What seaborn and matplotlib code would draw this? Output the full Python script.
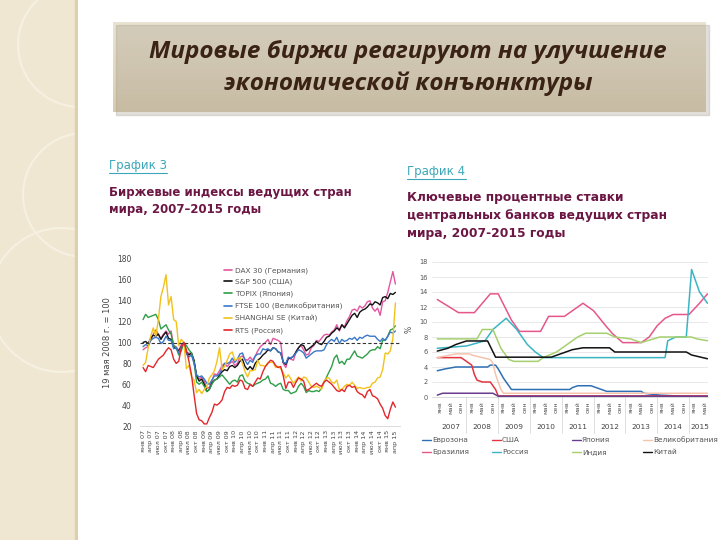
import numpy as np
import pandas as pd
import matplotlib
matplotlib.use('Agg')
import matplotlib.pyplot as plt
import matplotlib.patches as mpatches
from matplotlib.lines import Line2D
import seaborn as sns

# ---- данные: график 3 (месячные значения, янв 2007 - апр 2015, 19 мая 2008 = 100)
index_names = ['DAX 30 (Германия)', 'S&P 500 (США)', 'TOPIX (Япония)',
               'FTSE 100 (Великобритания)', 'SHANGHAI SE (Китай)', 'RTS (Россия)']
index_colors = ['#e2579f', '#111111', '#2e9e48', '#3a78c9', '#f2c21b', '#e3262b']

dax = [93, 95, 96, 102, 108, 112, 108, 104, 108, 111, 108, 111,
       97, 96, 92, 98, 100, 90, 90, 89, 82, 68, 65, 67,
       63, 56, 57, 63, 70, 69, 73, 78, 80, 77, 80, 82,
       78, 80, 86, 87, 84, 83, 86, 83, 87, 92, 96, 98,
       100, 103, 98, 104, 103, 102, 100, 80, 76, 85, 84, 83,
       91, 95, 97, 93, 88, 89, 95, 97, 102, 101, 104, 107,
       108, 107, 110, 112, 117, 111, 117, 115, 121, 125, 131, 132,
       130, 135, 133, 135, 139, 140, 133, 130, 133, 126, 139, 140,
       148, 158, 168, 156]
sp500 = [100, 101, 99, 104, 107, 106, 108, 103, 107, 110, 104, 103,
         96, 94, 92, 96, 100, 91, 88, 90, 83, 68, 63, 65,
         60, 53, 55, 61, 64, 65, 69, 72, 74, 73, 77, 78,
         76, 78, 82, 84, 77, 74, 77, 74, 80, 83, 85, 88,
         90, 93, 92, 95, 94, 91, 90, 81, 79, 85, 85, 87,
         91, 95, 98, 97, 92, 94, 96, 98, 101, 99, 98, 101,
         105, 106, 109, 111, 114, 112, 117, 114, 118, 122, 126, 128,
         124, 129, 131, 132, 134, 137, 136, 139, 138, 136, 143, 144,
         142, 147, 146, 148]
topix = [122, 127, 124, 125, 126, 127, 122, 113, 115, 117, 112, 108,
         97, 95, 88, 92, 100, 97, 93, 90, 81, 62, 60, 62,
         58, 53, 55, 60, 64, 65, 67, 69, 66, 63, 60, 63,
         64, 62, 68, 69, 63, 61, 60, 58, 60, 61, 62, 64,
         65, 68, 61, 60, 58, 60, 61, 55, 54, 54, 51, 52,
         53, 58, 61, 58, 52, 54, 53, 53, 54, 53, 56, 62,
         67, 72, 77, 85, 88, 80, 82, 79, 84, 84, 88, 92,
         87, 86, 85, 87, 89, 92, 93, 93, 96, 94, 102, 102,
         106, 112, 113, 116]
ftse = [96, 98, 97, 102, 104, 105, 104, 99, 101, 106, 102, 102,
        94, 95, 90, 96, 100, 89, 86, 88, 80, 69, 67, 68,
        65, 61, 60, 64, 68, 68, 70, 75, 80, 80, 81, 85,
        81, 84, 89, 90, 83, 79, 83, 81, 87, 89, 89, 94,
        93, 94, 92, 95, 94, 91, 90, 81, 80, 86, 85, 87,
        90, 93, 92, 90, 85, 87, 89, 91, 92, 92, 92, 93,
        98, 101, 103, 101, 105, 99, 103, 101, 102, 104, 103, 105,
        102, 105, 104, 106, 107, 106, 106, 106, 103, 101, 104, 102,
        106, 110, 109, 111]
shanghai = [78, 81, 95, 106, 114, 106, 122, 144, 153, 165, 136, 144,
            122, 120, 97, 103, 100, 75, 78, 67, 64, 52, 55, 51,
            55, 58, 66, 69, 73, 82, 95, 74, 77, 83, 89, 91,
            83, 84, 86, 80, 72, 67, 73, 73, 74, 83, 78, 78,
            77, 81, 81, 81, 76, 77, 75, 71, 66, 69, 65, 61,
            64, 67, 63, 67, 66, 62, 58, 57, 58, 57, 55, 63,
            66, 66, 62, 61, 64, 55, 55, 58, 60, 59, 62, 59,
            56, 57, 56, 56, 57, 57, 61, 62, 66, 67, 74, 90,
            89, 92, 104, 138]
rts = [76, 72, 78, 77, 76, 80, 84, 86, 88, 92, 95, 93,
       84, 80, 82, 95, 100, 93, 82, 69, 50, 32, 26, 25,
       22, 22, 28, 33, 41, 40, 42, 45, 53, 57, 56, 59,
       58, 59, 64, 63, 56, 55, 60, 58, 62, 66, 65, 72,
       77, 80, 83, 82, 78, 76, 77, 68, 56, 62, 62, 57,
       62, 66, 65, 63, 54, 55, 57, 59, 61, 59, 58, 62,
       64, 62, 60, 57, 54, 53, 55, 53, 58, 59, 57, 58,
       53, 51, 50, 47, 53, 55, 49, 48, 46, 41, 37, 30,
       27, 36, 43, 38]
index_series = [dax, sp500, topix, ftse, shanghai, rts]

month_short = ['янв', 'апр', 'июл', 'окт']
left_ticks = list(range(0, 100, 3))
left_labels = [f'{month_short[(t % 12) // 3]} {7 + t // 12:02d}' for t in left_ticks]

# ---- данные: график 4 (ключевые ставки, %, месяцы от янв 2007)
rate_names = ['Еврозона', 'США', 'Япония', 'Великобритания',
              'Бразилия', 'Россия', 'Индия', 'Китай']
rate_colors = ['#2f6fb5', '#e3343f', '#6a3d8f', '#f6c3ad',
               '#e5578a', '#3bb4c4', '#a6d06f', '#111111']

euro_m = [-1, 2, 6, 18, 19, 21, 22, 24, 25, 26, 27, 49, 50, 52, 57, 59, 61, 63, 76, 77, 83, 89, 93, 101]
euro_v = [3.5, 3.75, 4.0, 4.0, 4.25, 4.25, 3.75, 2.5, 2.0, 1.5, 1.0, 1.0, 1.25, 1.5, 1.5, 1.25, 1.0, 0.75, 0.75, 0.5, 0.25, 0.15, 0.05, 0.05]
usa_m = [-1, 8, 10, 12, 13, 14, 16, 19, 20, 21, 22, 101]
usa_v = [5.25, 5.25, 4.75, 4.25, 3.0, 2.25, 2.0, 2.0, 1.5, 1.0, 0.15, 0.15]
jap_m = [-1, 1, 20, 21, 22, 101]
jap_v = [0.25, 0.5, 0.5, 0.3, 0.1, 0.1]
uk_m = [-1, 6, 11, 13, 19, 20, 21, 22, 23, 24, 101]
uk_v = [5.25, 5.75, 5.75, 5.5, 5.0, 4.5, 3.0, 2.0, 1.0, 0.5, 0.5]
bra_m = [-1, 7, 13, 19, 22, 27, 30, 38, 41, 47, 54, 58, 62, 65, 69, 76, 79, 82, 85, 88, 94, 96, 98, 101]
bra_v = [13.0, 11.25, 11.25, 13.75, 13.75, 10.25, 8.75, 8.75, 10.75, 10.75, 12.5, 11.5, 9.75, 8.5, 7.25, 7.25, 8.0, 9.5, 10.5, 11.0, 11.0, 11.75, 12.5, 13.75]
rus_m = [-1, 10, 17, 20, 25, 29, 33, 36, 39, 85, 86, 89, 93, 95, 97, 98, 101]
rus_v = [6.5, 6.8, 7.5, 9.0, 10.5, 9.0, 7.0, 6.0, 5.25, 5.25, 7.5, 8.0, 8.0, 17.0, 15.0, 14.0, 12.5]
ind_m = [-1, 14, 16, 20, 23, 26, 28, 37, 39, 44, 48, 52, 55, 63, 66, 72, 76, 83, 95, 97, 101]
ind_v = [7.75, 7.75, 9.0, 9.0, 6.5, 5.0, 4.75, 4.75, 5.25, 6.0, 7.0, 8.0, 8.5, 8.5, 8.0, 7.75, 7.25, 8.0, 8.0, 7.75, 7.5]
chi_m = [-1, 3, 6, 10, 18, 21, 42, 44, 48, 50, 54, 64, 66, 93, 95, 98, 101]
chi_v = [6.12, 6.5, 7.0, 7.47, 7.47, 5.31, 5.31, 5.56, 6.06, 6.31, 6.56, 6.56, 6.0, 6.0, 5.6, 5.35, 5.1]
rate_series = [(euro_m, euro_v), (usa_m, usa_v), (jap_m, jap_v), (uk_m, uk_v),
               (bra_m, bra_v), (rus_m, rus_v), (ind_m, ind_v), (chi_m, chi_v)]

right_ticks = list(range(0, 101, 4))
right_labels = [['янв', 'май', 'сен'][(t % 12) // 4] for t in right_ticks]
years = ['2007', '2008', '2009', '2010', '2011', '2012', '2013', '2014', '2015']

# ---- таблицы для seaborn
df3 = pd.concat([pd.DataFrame({'m': np.arange(len(s)), 'v': s, 'series': n})
                 for n, s in zip(index_names, index_series)])
df4 = pd.concat([pd.DataFrame({'m': mm, 'v': vv, 'series': n})
                 for n, (mm, vv) in zip(rate_names, rate_series)])

sns.set_style('white')
plt.rcParams['font.family'] = ['DejaVu Sans']
W, H = 720, 540
fig = plt.figure(figsize=(7.2, 5.4), dpi=100)
fig.patch.set_facecolor('white')

def fx(x):
    return x / W

def fy(y):
    return 1 - y / H

# левая декоративная полоса
deco = fig.add_axes([0, 0, fx(78), 1])
deco.set_xlim(0, 78)
deco.set_ylim(540, 0)
deco.axis('off')
deco.add_patch(mpatches.Rectangle((0, 0), 78, 540, color='#efe7d1'))
for cx, cy, r in [(80, 45, 62), (85, 195, 62), (62, 300, 72)]:
    deco.add_patch(mpatches.Circle((cx, cy), r, fill=False, ec='#f6f0e2', lw=1.6))
deco.add_patch(mpatches.Rectangle((75, 0), 3, 540, color='#ddd0ad'))

# плашка заголовка (светлее сверху, темнее снизу)
fig.patches.append(mpatches.Rectangle((fx(116), fy(115)), fx(593), 90 / H, transform=fig.transFigure,
                                      color='#a09888', alpha=0.3, zorder=0))
tbox = fig.add_axes([fx(113), fy(112), fx(593), 90 / H])
grad = np.linspace(0, 1, 100).reshape(-1, 1)
tbox.imshow(grad, aspect='auto', origin='lower', cmap=matplotlib.colors.LinearSegmentedColormap.from_list(
    'beige', ['#d9cbae', '#e3d9c2', '#ebe3d1']), extent=[0, 1, 0, 1])
tbox.axis('off')
for txt, y in [('Мировые биржи реагируют на улучшение', 52), ('экономической конъюнктуры', 84)]:
    fig.text(fx(408), fy(y), txt, ha='center', va='center', fontsize=17.5,
             style='italic', weight='bold', color='#3a2314', family=['Open Sans', 'DejaVu Sans'])

# подписи графиков
teal = '#3aa6b8'
maroon = '#6b1643'
fig.text(fx(109), fy(165), 'График 3', fontsize=8.5, color=teal, va='center')
fig.add_artist(Line2D([fx(109), fx(167)], [fy(173), fy(173)], color=teal, lw=0.8))
fig.text(fx(109), fy(192), 'Биржевые индексы ведущих стран', fontsize=8.5, weight='bold', color=maroon, va='center')
fig.text(fx(109), fy(210), 'мира, 2007–2015 годы', fontsize=8.5, weight='bold', color=maroon, va='center')
fig.text(fx(407), fy(171), 'График 4', fontsize=8.5, color=teal, va='center')
fig.add_artist(Line2D([fx(407), fx(466)], [fy(179), fy(179)], color=teal, lw=0.8))
for txt, y in [('Ключевые процентные ставки', 197), ('центральных банков ведущих стран', 215),
               ('мира, 2007-2015 годы', 233)]:
    fig.text(fx(407), fy(y), txt, fontsize=8.8, weight='bold', color=maroon, va='center')

# ---- график 3
ax1 = fig.add_axes([fx(140), fy(426), fx(260), 167 / H])
sns.lineplot(data=df3, x='m', y='v', hue='series', palette=index_colors,
             hue_order=index_names, linewidth=1.0, ax=ax1, legend=False)
ax1.axhline(100, ls='--', color='#333333', lw=0.8, dashes=(3, 2))
ax1.set_xlim(-1.2, 100.8)
ax1.set_ylim(20, 180)
ax1.set_yticks(range(20, 181, 20))
ax1.set_xticks(left_ticks)
ax1.set_xticklabels(left_labels, rotation=90, fontsize=4.6, color='#444444')
ax1.tick_params(axis='y', labelsize=5.5, colors='#444444', length=0, pad=6)
ax1.tick_params(axis='x', length=2, width=0.4, color='#bbbbbb', pad=1)
ax1.set_xlabel('')
ax1.set_ylabel('19 мая 2008 г. = 100', fontsize=6, color='#444444', labelpad=4)
for s in ['top', 'right', 'left']:
    ax1.spines[s].set_visible(False)
ax1.spines['bottom'].set_color('#cccccc')
ax1.spines['bottom'].set_linewidth(0.5)
h3 = [Line2D([], [], color=c, lw=1.2) for c in index_colors]
ax1.legend(h3, index_names, loc='upper left', bbox_to_anchor=(0.31, 0.97), frameon=False,
           fontsize=5.3, handlelength=1.2, handletextpad=0.4, labelspacing=0.7,
           labelcolor='#555555', borderaxespad=0)

# ---- график 4
ax2 = fig.add_axes([fx(432), fy(397), fx(276), 135 / H])
sns.lineplot(data=df4, x='m', y='v', hue='series', palette=rate_colors,
             hue_order=rate_names, linewidth=1.1, ax=ax2, legend=False)
ax2.set_xlim(-3, 101.2)
ax2.set_ylim(0, 18)
ax2.set_yticks(range(0, 19, 2))
ax2.yaxis.grid(True, color='#e4e4e4', lw=0.6)
ax2.set_axisbelow(True)
ax2.set_xticks(right_ticks)
ax2.set_xticklabels(right_labels, rotation=90, fontsize=4.5, color='#555555')
ax2.tick_params(axis='both', length=0, pad=3)
ax2.tick_params(axis='y', labelsize=4.8, colors='#555555')
ax2.set_xlabel('')
ax2.set_ylabel('%', fontsize=5.5, color='#555555', rotation=90, labelpad=4)
for s in ['top', 'right', 'left']:
    ax2.spines[s].set_visible(False)
ax2.spines['bottom'].set_color('#cccccc')
ax2.spines['bottom'].set_linewidth(0.5)
trans = matplotlib.transforms.blended_transform_factory(ax2.transData, ax2.transAxes)
for k in range(1, 9):
    ax2.plot([12 * k - 2, 12 * k - 2], [0, -0.27], transform=trans, color='#d0d0d0', lw=0.5, clip_on=False)
for k, yr in enumerate(years):
    xm = 12 * k + 4 if k < 8 else 98
    ax2.text(xm, -0.225, yr, transform=trans, ha='center', va='center', fontsize=5.3, color='#444444')

# легенда графика 4 (две строки по четыре)
col_x = [422, 492, 572, 643]
for i, (n, c) in enumerate(zip(rate_names, rate_colors)):
    row, col = divmod(i, 4)
    x0, y0 = col_x[col], 440 + 12 * row
    fig.add_artist(Line2D([fx(x0), fx(x0 + 9)], [fy(y0), fy(y0)], color=c, lw=1.0))
    fig.text(fx(x0 + 10), fy(y0), n, fontsize=5.3, color='#555555', va='center')

fig.savefig('out.png', dpi=100)
